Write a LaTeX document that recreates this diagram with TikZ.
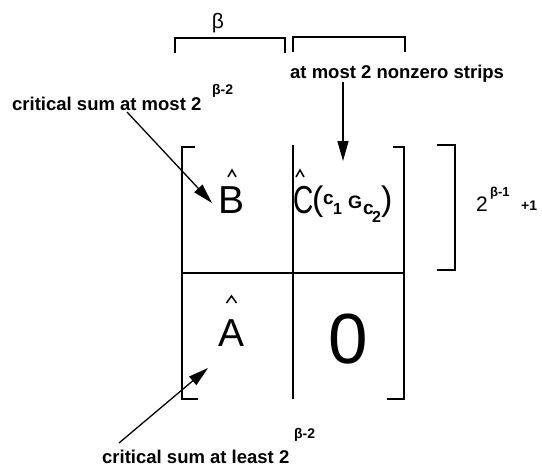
\documentclass[tikz,border=0pt]{standalone}
\usepackage{fontspec}
\setmainfont{Liberation Sans}
\usetikzlibrary{arrows.meta}
\begin{document}
\begin{tikzpicture}[x=1pt,y=-1pt,
  lbl/.style={font=\bfseries\fontsize{18.5}{20}\selectfont, inner sep=0pt, anchor=base west},
  sup/.style={font=\bfseries\fontsize{14}{15}\selectfont, inner sep=0pt, anchor=base west},
  big/.style={font=\fontsize{39}{40}\selectfont, inner sep=0pt, anchor=base},
  small/.style={font=\bfseries\fontsize{19}{20}\selectfont, inner sep=0pt, anchor=base west},
  tiny/.style={font=\bfseries\fontsize{16}{17}\selectfont, inner sep=0pt, anchor=base west},
  paren/.style={font=\fontsize{34}{36}\selectfont, inner sep=0pt, anchor=base west},
  frame/.style={line width=1.4pt},
  arr/.style={line width=1.3pt, -{Triangle[length=20pt,width=11pt]}},
  hat/.style={line width=1.5pt}]
\useasboundingbox (0,0) rectangle (542,469);

% top brackets
\draw[frame] (175,53) -- (175,38) -- (285,38) -- (285,53);
\draw[frame] (293,52) -- (293,37) -- (405,37) -- (405,52);
\node[font=\fontsize{21}{22}\selectfont, inner sep=0pt, anchor=base] (beta) at (218,28) {β};

% matrix
\draw[frame] (195,147) -- (182,147) -- (182,399) -- (198,399);
\draw[frame] (393,147) -- (404,147) -- (404,399) -- (387,399);
\draw[frame] (293,145) -- (293,399);
\draw[frame] (182,273) -- (404,273);

% outer right bracket
\draw[frame] (437,145) -- (455,145) -- (455,270) -- (437,270);
\node[font=\fontsize{21}{22}\selectfont, inner sep=0pt, anchor=base west] (two) at (476,211) {2};
\node[sup, font=\bfseries\fontsize{13}{14}\selectfont] (twoexp) at (490,196) {β-1};
\node[sup, font=\bfseries\fontsize{14}{15}\selectfont] (plusone) at (521,210) {+1};

% entries
\node[big] (B) at (232,213) {B};
\draw[hat] (228,177) -- (232,170) -- (236,177);
\node[big] (A) at (232,346) {A};
\draw[hat] (226.5,303) -- (231.5,296) -- (236.5,303);
\node[big, font=\fontsize{71}{72}\selectfont] (Z) at (348,363) {0};

\node[big, anchor=base west] (C) at (293,213) {\scalebox{0.72}[1]{C}};
\draw[hat] (296,177) -- (300,170) -- (304,177);
\node[paren] (lp) at (312,210) {(};
\node[small] (c1) at (323,204) {c};
\node[tiny] (one) at (333,214) {1};
\node[small, font=\bfseries\fontsize{18}{19}\selectfont] (G) at (348,208) {G};
\node[small] (c2) at (363,214) {c};
\node[tiny] (tw) at (372,222) {2};
\node[paren] (rp) at (381,210) {)};

% labels
\node[lbl] (top) at (12,110) {critical sum at most 2};
\node[sup] (topexp) at (212,94) {β-2};
\node[lbl] (mid) at (290,78) {at most 2 nonzero strips};
\node[lbl] (bot) at (102,463) {critical sum at least 2};
\node[sup] (botexp) at (294,438) {β-2};

% arrows
\coordinate (a1s) at (127,112);
\coordinate (a1e) at (212,203);
\draw[arr] (a1s) -- (a1e);
\coordinate (a2s) at (343,82);
\coordinate (a2e) at (343,161);
\draw[arr] (a2s) -- (a2e);
\coordinate (a3s) at (119,443);
\coordinate (a3e) at (208,368);
\draw[arr] (a3s) -- (a3e);
\end{tikzpicture}
\end{document}
